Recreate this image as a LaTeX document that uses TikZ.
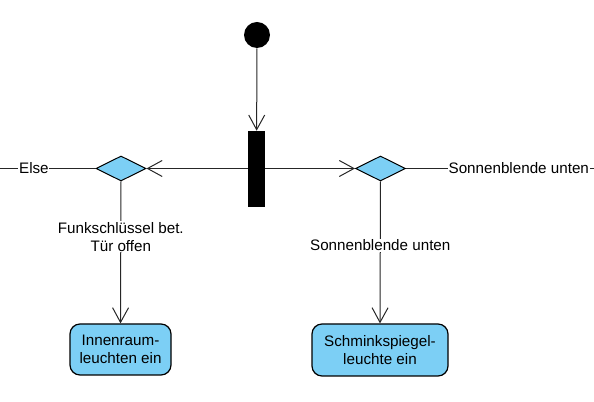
\documentclass[tikz,border=0pt]{standalone}
\usepackage{fontspec}
\setmainfont{Liberation Sans}
\usetikzlibrary{shapes.geometric,arrows.meta}
\definecolor{actblue}{RGB}{124,207,245}
\tikzset{
  conn/.style={line width=0.75pt, draw=black!85},
  arr/.style={conn, -{Straight Barb[length=11pt,width=12pt,line width=0.75pt]}},
  decision/.style={diamond, draw=black, line width=0.75pt, fill=actblue, minimum width=37.5pt, minimum height=18.75pt, inner sep=0pt, aspect=2},
  action/.style={rectangle, rounded corners=7.5pt, draw=black, line width=0.9pt, fill=actblue, align=center, inner sep=0pt, font=\fontsize{11.4}{13.5}\selectfont},
  lbl/.style={fill=white, inner sep=0.6pt, align=center, font=\fontsize{11.4}{13.5}\selectfont},
}
\begin{document}
\begin{tikzpicture}[x=0.75pt,y=-0.75pt]
\useasboundingbox (0,0) rectangle (594,402);
\node[circle, fill=black, minimum size=19.5pt, inner sep=0pt] (start) at (257,35) {};
\node[rectangle, fill=black, minimum width=12.75pt, minimum height=57pt, inner sep=0pt] (fork) at (256.5,169) {};
\node[decision] (dl) at (121,168.5) {};
\node[decision] (dr) at (380.5,168.5) {};
\node[action, minimum width=75.75pt, minimum height=38.25pt] (innen) at (120.5,349.5) {Innenraum-\\leuchten ein};
\node[action, minimum width=102pt, minimum height=39pt] (schmink) at (380,350) {Schminkspiegel-\\leuchte ein};
\coordinate (lend) at (0,168.5);
\coordinate (rend) at (594,168.5);
\draw[arr] (start) -- (fork);
\draw[arr] (fork.west |- dl) -- (dl.east);
\draw[arr] (fork.east |- dr) -- (dr.west);
\draw[conn] (dl.west) -- (lend) node[lbl, pos=0.645] {Else};
\draw[conn] (dr.east) -- (rend) node[lbl, pos=0.6] {Sonnenblende unten};
\draw[arr] (dl.south) -- (innen.north) node[lbl, pos=0.39] {Funkschlüssel bet.\\Tür offen};
\draw[arr] (dr.south) -- (schmink.north) node[lbl, pos=0.45] {Sonnenblende unten};
\end{tikzpicture}
\end{document}
